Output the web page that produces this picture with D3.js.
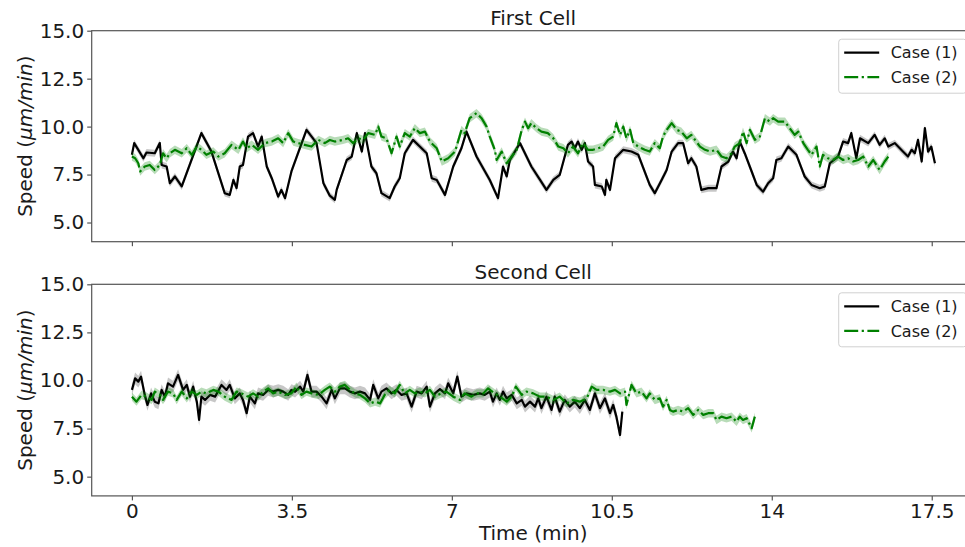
<!DOCTYPE html>
<html>
<head>
<meta charset="utf-8">
<script src="https://cdn.jsdelivr.net/npm/d3@7"></script>
<style>
  body { margin: 0; background: #fff; }
  svg { display: block; font-family: 'DejaVu Sans', sans-serif; }
</style>
</head>
<body>
<svg id="chart" width="965" height="547"></svg>
<script>
// tick values and labels
const xTicks = [0, 3.5, 7, 10.5, 14, 17.5]
const xTickLabels = ['0', '3.5', '7', '10.5', '14', '17.5']
const yTicks = [5, 7.5, 10, 12.5, 15]
const yTickLabels = ['5.0', '7.5', '10.0', '12.5', '15.0']
const panelTitles = ['First Cell', 'Second Cell']
const seriesNames = ['Case (1)', 'Case (2)']

// [time (min), speed]
const cell1Case1 = [[0, 8.53], [0.05, 9.14], [0.25, 8.35], [0.32, 8.65], [0.5, 8.61], [0.61, 9.14], [0.65, 8.0], [0.76, 7.92], [0.83, 7.05], [0.94, 7.4], [1.09, 6.88], [1.52, 9.66], [1.74, 8.7], [2.03, 6.53], [2.14, 6.44], [2.22, 7.22], [2.29, 6.79], [2.36, 7.92], [2.43, 8.0], [2.54, 9.48], [2.65, 9.66], [2.76, 8.96], [2.84, 9.48], [2.95, 7.92], [3.06, 7.31], [3.2, 6.35], [3.27, 6.7], [3.35, 6.27], [3.49, 7.66], [3.82, 9.83], [4.04, 9.14], [4.19, 7.05], [4.33, 6.4], [4.44, 6.18], [4.48, 6.7], [4.7, 8.26], [4.81, 8.44], [4.92, 9.66], [5.03, 8.7], [5.1, 9.66], [5.24, 7.92], [5.35, 7.57], [5.46, 6.53], [5.64, 6.27], [5.75, 6.88], [5.86, 7.31], [5.97, 8.61], [6.15, 9.31], [6.45, 8.61], [6.56, 7.31], [6.67, 7.22], [6.85, 6.44], [7.03, 7.92], [7.21, 8.87], [7.32, 9.74], [7.54, 8.44], [7.83, 7.22], [8.01, 6.27], [8.12, 7.92], [8.2, 7.4], [8.27, 8.26], [8.49, 9.14], [8.74, 7.92], [8.93, 7.22], [9.07, 6.7], [9.22, 7.22], [9.36, 7.48], [9.54, 9.05], [9.62, 9.22], [9.69, 8.87], [9.76, 9.22], [9.84, 8.79], [9.91, 9.14], [9.98, 8.18], [10.09, 7.92], [10.13, 6.96], [10.28, 6.88], [10.35, 6.44], [10.38, 7.22], [10.46, 6.7], [10.57, 8.35], [10.75, 8.79], [10.93, 8.7], [11.08, 8.53], [11.19, 7.83], [11.33, 6.96], [11.44, 6.53], [11.59, 7.22], [11.7, 7.74], [11.81, 8.7], [11.95, 9.14], [12.06, 9.14], [12.17, 8.09], [12.24, 8.35], [12.35, 7.92], [12.46, 6.7], [12.61, 6.79], [12.79, 6.79], [12.9, 7.92], [13.05, 8.18], [13.15, 8.7], [13.23, 8.35], [13.3, 9.22], [13.41, 8.6], [13.56, 7.66], [13.67, 6.96], [13.81, 6.61], [13.92, 7.05], [14.03, 7.31], [14.1, 8.26], [14.21, 8.35], [14.36, 8.96], [14.54, 8.53], [14.65, 7.83], [14.72, 7.4], [14.87, 6.96], [15.05, 6.79], [15.16, 6.88], [15.27, 8.09], [15.45, 8.44], [15.56, 9.22], [15.67, 9.14], [15.74, 9.66], [15.85, 8.35], [15.93, 9.39], [16.11, 9.14], [16.25, 9.57], [16.36, 9.05], [16.47, 9.39], [16.55, 8.96], [16.69, 9.14], [16.87, 8.7], [16.98, 8.44], [17.06, 8.79], [17.13, 8.61], [17.2, 9.31], [17.28, 8.18], [17.35, 9.92], [17.42, 8.7], [17.49, 8.96], [17.57, 8.09]]

const cell1Case2 = [[0, 8.44], [0.07, 8.35], [0.14, 8.09], [0.18, 7.66], [0.28, 7.92], [0.39, 8.0], [0.5, 7.74], [0.61, 8.0], [0.68, 8.61], [0.76, 8.35], [0.83, 8.61], [0.94, 8.79], [1.09, 8.61], [1.2, 8.87], [1.31, 8.53], [1.42, 8.96], [1.52, 8.79], [1.63, 8.53], [1.78, 8.7], [1.89, 8.44], [2.03, 8.61], [2.18, 9.05], [2.33, 8.79], [2.43, 9.22], [2.51, 8.87], [2.62, 9.05], [2.76, 8.79], [2.91, 9.14], [3.06, 9.22], [3.2, 9.39], [3.31, 9.14], [3.42, 9.66], [3.53, 9.22], [3.64, 9.14], [3.78, 9.05], [3.93, 8.96], [4.08, 9.31], [4.22, 9.14], [4.33, 9.3], [4.44, 9.22], [4.62, 9.31], [4.73, 9.39], [4.84, 9.14], [4.95, 9.39], [5.06, 9.31], [5.17, 9.66], [5.32, 9.57], [5.39, 10.0], [5.46, 9.48], [5.57, 9.39], [5.68, 8.61], [5.79, 9.48], [5.86, 8.96], [5.97, 9.66], [6.08, 9.48], [6.19, 9.92], [6.3, 9.66], [6.41, 9.74], [6.52, 9.22], [6.67, 8.87], [6.78, 8.18], [6.92, 8.35], [7.07, 8.7], [7.21, 9.83], [7.28, 9.66], [7.39, 10.44], [7.54, 10.7], [7.65, 10.44], [7.76, 10.0], [7.83, 9.48], [7.94, 8.79], [7.98, 8.26], [8.09, 8.7], [8.2, 8.09], [8.31, 8.44], [8.42, 8.79], [8.53, 9.83], [8.6, 10.26], [8.67, 9.92], [8.74, 10.18], [8.85, 9.92], [8.96, 9.74], [9.1, 9.66], [9.22, 9.39], [9.33, 8.96], [9.44, 8.87], [9.54, 8.61], [9.65, 8.96], [9.76, 8.61], [9.87, 9.14], [9.98, 8.79], [10.09, 8.79], [10.2, 8.87], [10.31, 8.96], [10.42, 9.31], [10.53, 9.48], [10.6, 10.18], [10.68, 9.57], [10.75, 10.0], [10.82, 9.39], [10.9, 9.83], [10.97, 9.14], [11.08, 8.96], [11.22, 8.79], [11.33, 8.7], [11.44, 9.14], [11.55, 8.87], [11.62, 9.48], [11.7, 9.83], [11.81, 10.18], [11.92, 9.83], [12.02, 9.74], [12.14, 9.39], [12.24, 9.57], [12.32, 9.31], [12.43, 8.96], [12.54, 8.79], [12.65, 8.7], [12.79, 8.79], [12.9, 8.44], [13.01, 8.35], [13.12, 8.61], [13.19, 8.96], [13.3, 9.14], [13.37, 9.74], [13.45, 9.14], [13.52, 9.83], [13.63, 9.31], [13.74, 9.48], [13.85, 10.44], [13.96, 10.26], [14.03, 10.44], [14.14, 10.26], [14.29, 10.26], [14.39, 9.92], [14.5, 9.57], [14.58, 9.74], [14.69, 9.14], [14.79, 8.79], [14.87, 8.53], [14.98, 8.96], [15.05, 7.92], [15.12, 8.53], [15.23, 8.35], [15.34, 8.26], [15.45, 8.44], [15.56, 8.26], [15.67, 8.35], [15.78, 8.18], [15.89, 8.26], [16.0, 8.44], [16.11, 7.92], [16.22, 8.26], [16.36, 7.74], [16.47, 8.18], [16.55, 8.44]]

const cell2Case1 = [[0, 9.51], [0.07, 10.11], [0.14, 9.94], [0.2, 10.2], [0.28, 9.25], [0.34, 8.73], [0.42, 9.33], [0.5, 8.9], [0.58, 8.81], [0.65, 9.51], [0.72, 9.16], [0.79, 9.85], [0.9, 9.68], [1.01, 10.29], [1.12, 9.51], [1.2, 9.77], [1.27, 9.16], [1.34, 9.68], [1.42, 8.9], [1.47, 7.95], [1.52, 9.16], [1.6, 8.99], [1.71, 9.25], [1.82, 9.16], [1.96, 9.77], [2.07, 9.51], [2.14, 9.77], [2.25, 9.07], [2.36, 9.33], [2.43, 8.99], [2.51, 8.3], [2.58, 9.16], [2.69, 8.81], [2.76, 9.33], [2.87, 9.25], [2.98, 9.51], [3.09, 9.42], [3.2, 9.51], [3.31, 9.42], [3.42, 9.25], [3.49, 9.51], [3.57, 9.42], [3.68, 9.68], [3.75, 9.42], [3.84, 10.29], [3.93, 9.42], [4.04, 9.42], [4.15, 9.16], [4.26, 8.81], [4.37, 9.51], [4.44, 9.07], [4.55, 9.59], [4.66, 9.59], [4.77, 9.42], [4.88, 9.33], [4.99, 9.42], [5.1, 9.33], [5.21, 8.99], [5.28, 9.77], [5.39, 9.07], [5.46, 9.42], [5.57, 9.59], [5.68, 9.33], [5.79, 9.51], [5.9, 9.25], [6.01, 9.33], [6.12, 8.64], [6.23, 9.42], [6.34, 9.33], [6.45, 9.68], [6.52, 8.64], [6.63, 9.33], [6.74, 9.55], [6.85, 9.33], [6.92, 9.85], [7.03, 9.33], [7.12, 10.2], [7.21, 9.16], [7.32, 9.33], [7.47, 9.25], [7.61, 9.33], [7.72, 9.25], [7.83, 9.42], [7.9, 8.9], [7.98, 9.33], [8.05, 8.99], [8.12, 9.42], [8.2, 9.07], [8.31, 9.25], [8.42, 8.81], [8.53, 8.99], [8.6, 8.64], [8.71, 8.9], [8.82, 8.64], [8.89, 9.07], [8.96, 8.56], [9.07, 9.16], [9.18, 8.47], [9.25, 9.16], [9.36, 8.38], [9.47, 8.99], [9.58, 8.64], [9.69, 8.9], [9.8, 8.56], [9.91, 8.99], [10.02, 8.47], [10.13, 9.33], [10.24, 8.56], [10.35, 9.07], [10.46, 8.3], [10.53, 8.73], [10.6, 8.12], [10.68, 7.17], [10.73, 8.38]]

const cell2Case2 = [[0, 9.16], [0.1, 8.9], [0.21, 9.25], [0.32, 9.16], [0.43, 8.99], [0.5, 9.42], [0.61, 9.25], [0.68, 8.99], [0.79, 9.42], [0.9, 9.33], [0.98, 8.99], [1.09, 9.42], [1.2, 9.07], [1.31, 9.42], [1.42, 9.25], [1.52, 9.42], [1.63, 9.33], [1.78, 9.51], [1.89, 9.42], [2.03, 9.16], [2.18, 8.99], [2.29, 9.42], [2.4, 9.33], [2.54, 9.16], [2.65, 9.33], [2.76, 9.16], [2.87, 9.42], [2.98, 9.59], [3.09, 9.33], [3.2, 9.42], [3.35, 9.25], [3.49, 9.33], [3.6, 9.68], [3.71, 9.25], [3.82, 9.42], [3.93, 9.33], [4.08, 9.25], [4.22, 9.51], [4.33, 9.68], [4.44, 9.42], [4.55, 9.68], [4.66, 9.77], [4.77, 9.51], [4.88, 9.33], [4.99, 9.25], [5.1, 9.07], [5.21, 8.81], [5.32, 8.9], [5.43, 8.81], [5.53, 9.25], [5.64, 9.51], [5.75, 9.33], [5.86, 9.77], [5.97, 9.33], [6.08, 9.51], [6.19, 9.33], [6.3, 9.42], [6.41, 9.33], [6.52, 9.51], [6.63, 9.16], [6.74, 9.3], [6.88, 9.42], [7.03, 9.16], [7.18, 8.99], [7.28, 9.33], [7.43, 9.16], [7.54, 9.33], [7.69, 9.33], [7.79, 9.59], [7.94, 9.33], [8.05, 9.16], [8.2, 8.9], [8.31, 9.16], [8.4, 9.68], [8.53, 9.25], [8.63, 9.42], [8.78, 9.33], [8.93, 9.16], [9.07, 9.16], [9.22, 8.99], [9.36, 9.16], [9.51, 8.81], [9.65, 8.99], [9.8, 8.9], [9.95, 9.07], [10.06, 9.68], [10.17, 9.51], [10.31, 9.51], [10.46, 9.42], [10.57, 9.51], [10.68, 9.33], [10.79, 9.42], [10.82, 8.73], [10.93, 9.77], [11.04, 9.33], [11.15, 9.42], [11.26, 9.07], [11.33, 9.33], [11.44, 8.99], [11.55, 9.07], [11.62, 8.64], [11.7, 8.99], [11.77, 8.47], [11.84, 8.38], [11.95, 8.47], [12.06, 8.38], [12.17, 8.56], [12.28, 8.21], [12.39, 8.47], [12.5, 8.21], [12.61, 8.3], [12.72, 8.3], [12.79, 7.95], [12.9, 8.12], [13.01, 8.04], [13.12, 8.12], [13.23, 7.86], [13.3, 8.12], [13.37, 7.95], [13.45, 8.04], [13.56, 7.52], [13.63, 8.12]]

// half-width of the shaded band around each line, per panel
const case1Band = [0.18, 0.3]
const case2Band = [0.22, 0.22]

const PANELS = [
  { top: 30.7, bottom: 241.7, series: [cell1Case1, cell1Case2] },
  { top: 284.3, bottom: 495.9, series: [cell2Case1, cell2Case2] }
]
const LEFT = 91.7
const RIGHT = 974.7
const FRAME = '#555'
const INK = '#1a1a1a'
const COLORS = ['#000000', '#008000']
const DASHES = [null, '14,3.5,2.2,3.5']

const svg = d3.select('#chart')

const scaleX = d3.scaleLinear().domain([-0.88, 18.44]).range([LEFT, RIGHT])

PANELS.forEach(function(panel, p) {
  const scaleY = d3.scaleLinear().domain([4, 15]).range([panel.bottom, panel.top])
  const g = svg.append('g')
  const bands = [case1Band[p], case2Band[p]]

  panel.series.forEach(function(data, i) {
    const area = d3
      .area()
      .x(function(d) {
        return scaleX(d[0])
      })
      .y0(function(d) {
        return scaleY(d[1] - bands[i])
      })
      .y1(function(d) {
        return scaleY(d[1] + bands[i])
      })

    const line = d3
      .line()
      .x(function(d) {
        return scaleX(d[0])
      })
      .y(function(d) {
        return scaleY(d[1])
      })

    g.append('path')
      .datum(data)
      .attr('d', area)
      .attr('fill', COLORS[i])
      .attr('fill-opacity', i === 0 ? 0.22 : 0.28)

    g.append('path')
      .datum(data)
      .attr('d', line)
      .attr('fill', 'none')
      .attr('stroke', COLORS[i])
      .attr('stroke-width', 2.2)
      .attr('stroke-linejoin', 'round')
      .attr('stroke-dasharray', DASHES[i])
  })

  // frame
  g.append('rect')
    .attr('x', LEFT)
    .attr('y', panel.top)
    .attr('width', RIGHT - LEFT)
    .attr('height', panel.bottom - panel.top)
    .attr('fill', 'none')
    .attr('stroke', FRAME)
    .attr('stroke-width', 1.2)

  const xAxis = g
    .append('g')
    .attr('transform', 'translate(0,' + panel.bottom + ')')
    .call(
      d3
        .axisBottom(scaleX)
        .tickValues(xTicks)
        .tickSize(4.5)
        .tickPadding(3.5)
        .tickFormat(function(d, i) {
          return p === 1 ? xTickLabels[i] : ''
        })
    )
  const yAxis = g
    .append('g')
    .attr('transform', 'translate(' + LEFT + ',0)')
    .call(
      d3
        .axisLeft(scaleY)
        .tickValues(yTicks)
        .tickSize(4.5)
        .tickPadding(3)
        .tickFormat(function(d, i) {
          return yTickLabels[i]
        })
    )
  ;[xAxis, yAxis].forEach(function(ax) {
    ax.select('.domain').remove()
    ax.selectAll('line').attr('stroke', FRAME).attr('stroke-width', 1.2)
    ax.selectAll('text')
      .attr('fill', INK)
      .style('font-size', '20px')
      .style('font-family', "'DejaVu Sans', sans-serif")
  })

  g.append('text')
    .attr('x', (LEFT + RIGHT) / 2)
    .attr('y', panel.top - 5.5)
    .attr('text-anchor', 'middle')
    .attr('fill', INK)
    .style('font-size', '20px')
    .text(panelTitles[p])

  const ylab = g
    .append('text')
    .attr('transform', 'translate(31.5,' + (panel.top + panel.bottom) / 2 + ') rotate(-90)')
    .attr('text-anchor', 'middle')
    .attr('fill', INK)
    .style('font-size', '20px')
  ylab.append('tspan').text('Speed (')
  ylab.append('tspan').style('font-style', 'italic').text('\u03bcm/min')
  ylab.append('tspan').text(')')

  // legend
  const lx = RIGHT - 8 - 128
  const ly = panel.top + 8.5
  const legend = g.append('g').attr('transform', 'translate(' + lx + ',' + ly + ')')
  legend
    .append('rect')
    .attr('width', 128)
    .attr('height', 54)
    .attr('rx', 3)
    .attr('fill', '#fff')
    .attr('fill-opacity', 0.8)
    .attr('stroke', '#d0d0d0')
  seriesNames.forEach(function(name, i) {
    const yy = 13.5 + i * 24.5
    legend
      .append('line')
      .attr('x1', 5.5)
      .attr('x2', 40.5)
      .attr('y1', yy)
      .attr('y2', yy)
      .attr('stroke', COLORS[i])
      .attr('stroke-width', 2.2)
      .attr('stroke-dasharray', DASHES[i])
    legend
      .append('text')
      .attr('x', 52)
      .attr('y', yy)
      .attr('dy', '0.36em')
      .attr('fill', INK)
      .style('font-size', '16px')
      .text(name)
  })
})

svg
  .append('text')
  .attr('x', (LEFT + RIGHT) / 2)
  .attr('y', 540)
  .attr('text-anchor', 'middle')
  .attr('fill', INK)
  .style('font-size', '20px')
  .text('Time (min)')
</script>
</body>
</html>
